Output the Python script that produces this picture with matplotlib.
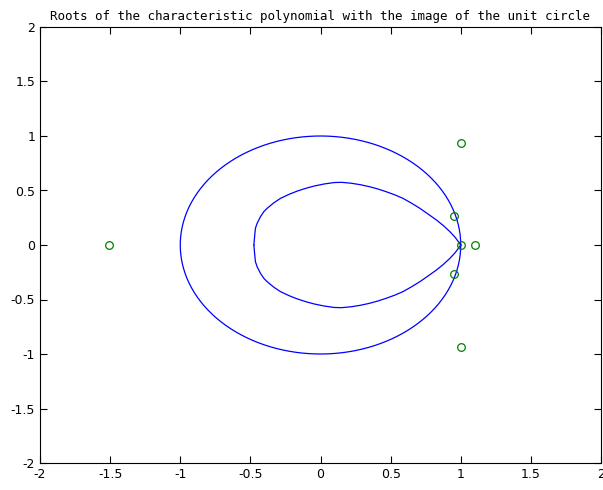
import numpy as np
import matplotlib
matplotlib.use('Agg')
import matplotlib.pyplot as plt

# roots of the characteristic polynomial
root_re = [-1.51, 0.95, 0.95, 1.0, 1.10, 1.005, 1.005]
root_im = [0.0, 0.265, -0.265, 0.0, 0.0, 0.935, -0.935]

img_up_x = [-0.475, -0.471, -0.464, -0.452, -0.428, -0.404, -0.380, -0.332,
            -0.285, -0.224, -0.165, -0.105, -0.045, 0.027, 0.098, 0.150,
            0.217, 0.285, 0.349, 0.409, 0.468, 0.528, 0.588, 0.647, 0.708,
            0.767, 0.827, 0.875, 0.923, 0.961, 1.0]
img_up_y = [0.0, 0.061, 0.153, 0.199, 0.260, 0.306, 0.337, 0.388,
            0.428, 0.465, 0.495, 0.520, 0.541, 0.560, 0.573, 0.575,
            0.567, 0.553, 0.535, 0.514, 0.489, 0.461, 0.428, 0.385, 0.337,
            0.284, 0.229, 0.179, 0.122, 0.069, 0.0]
# lower half
img_lo_x = [-0.475, -0.471, -0.464, -0.452, -0.428, -0.404, -0.380, -0.332,
            -0.285, -0.224, -0.165, -0.105, -0.045, 0.027, 0.098, 0.150,
            0.217, 0.285, 0.349, 0.409, 0.468, 0.528, 0.588, 0.647, 0.708,
            0.767, 0.827, 0.875, 0.923, 0.961, 1.0]
img_lo_y = [0.0, -0.061, -0.153, -0.199, -0.260, -0.306, -0.337, -0.388,
            -0.428, -0.465, -0.495, -0.520, -0.541, -0.560, -0.573, -0.575,
            -0.567, -0.553, -0.535, -0.514, -0.489, -0.461, -0.428, -0.385, -0.337,
            -0.284, -0.229, -0.179, -0.122, -0.069, 0.0]

ticks = [-2, -1.5, -1, -0.5, 0, 0.5, 1, 1.5, 2]
tick_labels = ['-2', '-1.5', '-1', '-0.5', '0', '0.5', '1', '1.5', '2']

fig = plt.figure(figsize=(6.03, 4.90), dpi=100)
ax = fig.add_axes([40 / 603, 27 / 490, 561 / 603, 436 / 490])

# the unit circle itself
t = np.linspace(0, 2 * np.pi, 400)
ax.plot(np.cos(t), np.sin(t), color='#0000ff', linewidth=0.9)

# its image
ax.plot(img_up_x, img_up_y, color='#0000ff', linewidth=0.9)
ax.plot(img_lo_x, img_lo_y, color='#0000ff', linewidth=0.9)

ax.plot(root_re, root_im, 'o', linestyle='none', markerfacecolor='none',
        markeredgecolor='#008000', markersize=5.5, markeredgewidth=0.9)

ax.set_xlim(-2, 2)
ax.set_ylim(-2, 2)
ax.set_xticks(ticks)
ax.set_xticklabels(tick_labels)
ax.set_yticks(ticks)
ax.set_yticklabels(tick_labels)
ax.tick_params(direction='in', length=5, width=0.8, top=True, right=True,
               labelsize=9, colors='black')
for s in ax.spines.values():
    s.set_linewidth(0.8)

ax.set_title('Roots of the characteristic polynomial with the image of the unit circle',
             fontsize=9.0, family='DejaVu Sans Mono', pad=5)

fig.savefig('out.png', dpi=100)
